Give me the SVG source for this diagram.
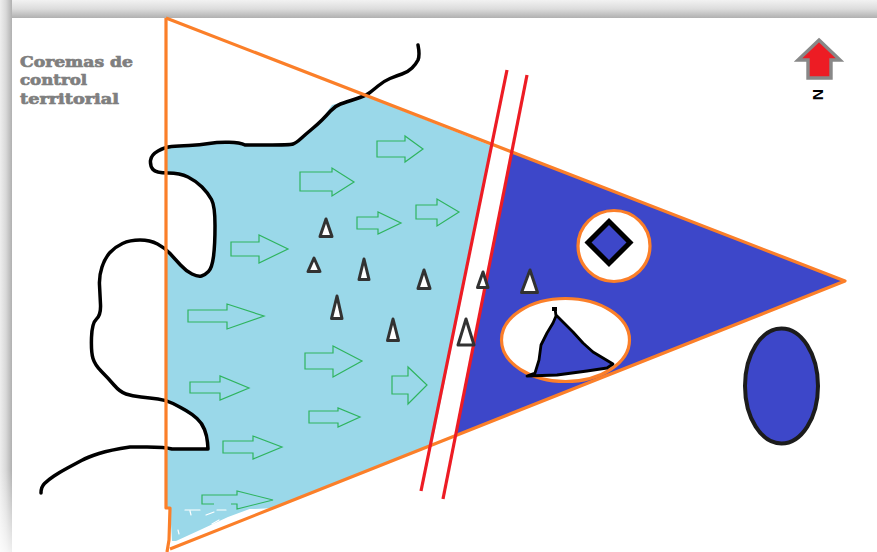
<svg xmlns="http://www.w3.org/2000/svg" width="877" height="552" viewBox="0 0 877 552">
<defs>
<linearGradient id="top" x1="0" y1="0" x2="0" y2="1"><stop offset="0" stop-color="#f2f2f2"/><stop offset="0.5" stop-color="#dcdcdc"/><stop offset="1" stop-color="#b0b0b0"/></linearGradient>
<linearGradient id="left" x1="0" y1="0" x2="1" y2="0"><stop offset="0" stop-color="#eeeeee"/><stop offset="0.5" stop-color="#d8d8d8"/><stop offset="1" stop-color="#b0b0b0"/></linearGradient>
<linearGradient id="fadeLeft" x1="0" y1="0" x2="0" y2="1"><stop offset="0" stop-color="#fff" stop-opacity="0"/><stop offset="1" stop-color="#fff" stop-opacity="0.8"/></linearGradient>
<filter id="soft" x="-30%" y="-30%" width="160%" height="160%"><feGaussianBlur stdDeviation="0.55"/></filter>
</defs>
<style>
.arrow{fill:none;stroke:#2fb45f;stroke-width:1.2}
.peak{fill:#fff;stroke:#333;stroke-width:3;stroke-linejoin:round}
.coast{fill:none;stroke:#000;stroke-width:3.5;stroke-linejoin:round;stroke-linecap:round}
.orange{fill:none;stroke:#fb7f29;stroke-width:3.2;stroke-linejoin:round}
.red{fill:none;stroke:#ed1c24;stroke-width:3.2}
.scr{fill:none;stroke:#fff;stroke-width:1.2;stroke-linecap:round}
.title{font-family:"DejaVu Serif","Liberation Serif",serif;font-weight:700;font-size:14.5px;fill:#7f7f7f;stroke:#7f7f7f;stroke-width:.7}
</style>
<rect width="877" height="552" fill="#fff"/>
<g id="frame">
<rect x="0" y="0" width="877" height="18" fill="url(#top)"/>
<rect x="0" y="0" width="12" height="552" fill="url(#left)"/>
<rect x="0" y="470" width="12" height="82" fill="url(#fadeLeft)"/>
<rect x="12" y="18" width="865" height="534" fill="#fff"/>
</g>
<g id="land">
<path fill="#9ad8e9" d="M166 147L215 143L240 142L255 145L290 145L300 140L320 122L332 105L365 96L492 146L432 445L273 508L255 509L172 508L166 508L166 449L172 449L208 449L208 437L204 427L190 415L176 407L166 400L166 248L175 258L187 270L200 277L210 273L213 262L214 250L215 205L208 192L196 182L180 173L166 173Z"/>
<path fill="#9ad8e9" d="M170 507L255 507L228 517L200 530L176 541L172 541Z"/>
<path class="scr" d="M206 515L214 512M212 524L219 520M178 530L179 534M217 510L226 510M190 511L191 515M185 510L200 510"/>
</g>
<g id="sea"><path fill="#3d47c9" d="M512 153L845 281L455.500 435.500Z"/></g>
<g id="coast-line">
<path class="coast" d="M418 45Q420 55 418 60Q416 64 412 68Q408 72 402 74Q396 76 390 78.500Q384 81 378 86Q372 91 368.500 93.500Q365 96 355.500 99Q346 102 340.500 104Q335 106 330.500 111Q326 116 322 120Q318 124 312 129Q306 134 301 138.500Q296 143 293 144Q290 145 267 145L245 145Q240 142.500 229 142.300Q218 142 209 143.500Q200 145 189 145.500Q178 146 171.500 146.500Q165 147 158 151Q151 155 150.500 160.500Q150 166 153 169.500Q156 173 168 173Q180 173 188 177Q196 181 202 187Q208 193 211.500 199.500Q215 206 215 225.500Q215 245 213.500 256.500Q212 268 208.500 271.500Q205 275 201.500 276Q198 277 192 274Q186 271 180.500 265Q175 259 170 253.500Q165 248 157.500 244Q150 240 140 240Q130 240 122.500 243.500Q115 247 110 252.500Q105 258 102 267Q99 276 99.500 285Q100 294 100.500 304.500Q101 315 96.500 319Q92 323 91.500 337.500Q91 352 93 358.500Q95 365 101.500 371.500Q108 378 114 385Q120 392 126 394Q132 396 141 397Q150 398 158 399Q166 400 173 403.500Q180 407 186 410.500Q192 414 197 418.500Q202 423 204.500 429.500Q207 436 207.500 442.500L208 449L172 449Q165 447 147 447L130 447Q110 450 99 453.500Q88 457 81.500 460.500Q75 464 67.500 468Q60 472 54 476Q48 480 44.500 483.500Q41 487 41 493"/>
</g>
<g id="triangle">
<path class="orange" d="M166 18L845 281L170 549"/>
<path class="orange" d="M166 18V508H170L169 540L167 552"/>
</g>
<g id="boundary">
<path class="red" d="M507 70L421 491"/>
<path class="red" d="M527 75L443 499"/>
</g>
<g id="flows">
<path class="arrow" d="M377 141H405V136L423 149L405 162V157H377Z"/>
<path class="arrow" d="M300 172H332V168L354 182L332 196V191H300Z"/>
<path class="arrow" d="M357 217H378V212L401 223L378 234V229H357Z"/>
<path class="arrow" d="M416 205H437V199L459 212L437 226V219H416Z"/>
<path class="arrow" d="M231 242H259V235L288 249L259 263V256H231Z"/>
<path class="arrow" d="M188 310H227V304L264 316L227 329V322H188Z"/>
<path class="arrow" d="M305 353H333V346L362 361L333 377V369H305Z"/>
<path class="arrow" d="M392 376H408V367L427 385L408 404V394H392Z"/>
<path class="arrow" d="M190 382H220V376L249 388L220 400V393H190Z"/>
<path class="arrow" d="M309 411H338V408L360 417L338 427V423H309Z"/>
<path class="arrow" d="M223 441H253V436L282 447L253 459V453H223Z"/>
<path class="arrow" d="M214 504H202V495H237V491L273 500L237 509V504H231"/>
</g>
<g id="peaks" filter="url(#soft)">
<path class="peak" d="M326 219L332 236.500L320 236.500Z"/>
<path class="peak" d="M314 258L320 271.500L308 271.500Z"/>
<path class="peak" d="M364 259L369 279.500L359 279.500Z"/>
<path class="peak" d="M424 270L430 288.500L418 288.500Z"/>
<path class="peak" d="M337 296L342 318.500L331.500 318.500Z"/>
<path class="peak" d="M393 319L398.500 340.500L387.500 340.500Z"/>
<path class="peak" d="M483 272L488 287.500L477.500 287.500Z"/>
<path class="peak" d="M466 319L474 345L458 345Z"/>
<path class="peak" d="M530 270L537.500 292.500L521.500 292.500Z"/>
</g>
<g id="circle-node">
<ellipse cx="614" cy="246" rx="36" ry="35.500" fill="#fff" stroke="#fb7f29" stroke-width="3.200"/>
<path d="M609 221.500L630 242.500L609 263.500L588 242.500Z" fill="#3d47c9" stroke="#000" stroke-width="5" stroke-linejoin="miter"/>
</g>
<g id="ellipse-node">
<ellipse cx="565.500" cy="340" rx="64" ry="41.500" fill="#fff" stroke="#fb7f29" stroke-width="3.200"/>
<path d="M555 308L556 316L553 323L547 333L541 345L539 360L535 373L527 376L557 375L587 371L607 368L613 364L593 352L583 343L573 332L556 315" fill="#3d47c9" stroke="#000" stroke-width="2.800" stroke-linejoin="round"/>
<path d="M554.500 307V311" stroke="#000" stroke-width="5" fill="none"/>
</g>
<g id="legend-ellipse">
<ellipse cx="781.500" cy="386" rx="36.500" ry="57.500" fill="#3d47c9" stroke="#1c1c1c" stroke-width="4"/>
</g>
<g id="north">
<path d="M819 40L840 60H831V78H808V60H798Z" fill="#ed1c24" stroke="#888" stroke-width="3.400"/>
<text transform="translate(813,89) rotate(90)" font-family="'Liberation Sans',sans-serif" font-weight="700" font-size="15.500" fill="#000">N</text>
</g>
<g id="title">
<text class="title" x="20" y="67" textLength="113" lengthAdjust="spacingAndGlyphs">Coremas de</text>
<text class="title" x="20" y="85" textLength="67" lengthAdjust="spacingAndGlyphs">control</text>
<text class="title" x="20" y="104" textLength="99" lengthAdjust="spacingAndGlyphs">territorial</text>
</g>
<g id="connectors"></g>
</svg>
